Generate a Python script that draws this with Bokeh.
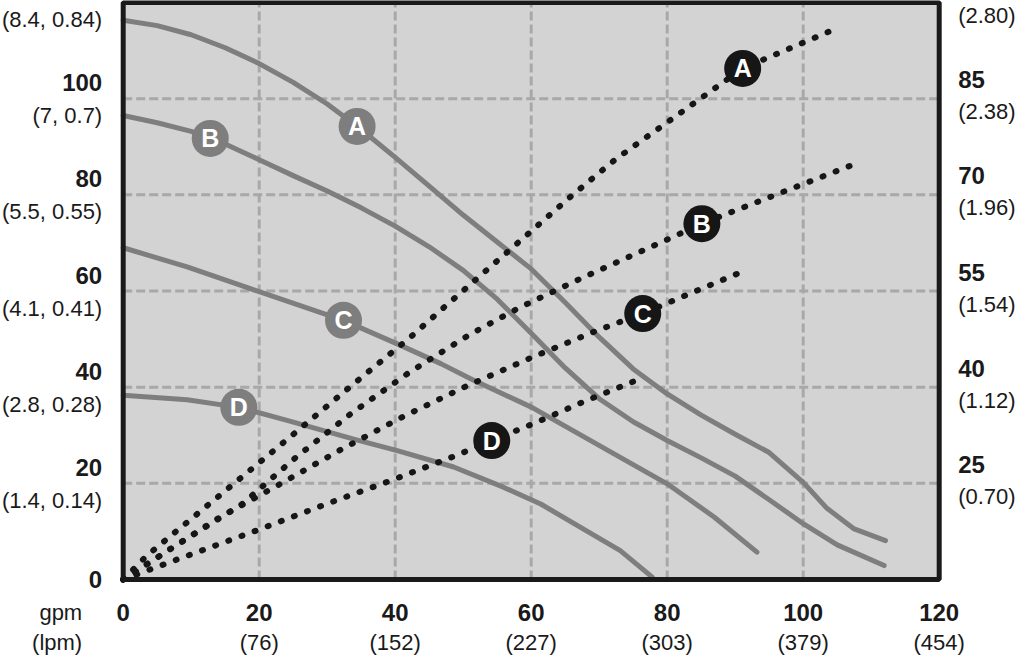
import numpy as np
from bokeh.plotting import figure
from bokeh.models import Range1d, BoxAnnotation, ColumnDataSource
from bokeh.core.properties import value
from bokeh.embed import file_html
from bokeh.resources import INLINE

# ---- Head curves (solid gray), x in gpm, y in left-axis units ----
head_A_x = [0, 5, 10, 15, 20, 25, 30, 35, 40, 45, 50, 55, 60, 65, 70, 75, 80, 85, 90, 95, 100, 103.5, 107.4, 112.1]
head_A_y = [116.3, 115.2, 113.3, 110.6, 107.3, 103.4, 98.9, 93.6, 87.8, 81.8, 75.8, 70.2, 64.6, 57.6, 50.4, 43.8, 38.6, 34.2, 30.2, 26.4, 20.2, 14.8, 10.6, 8.1]
head_B_x = [0, 5, 10, 15, 20, 25, 30, 35, 40, 45, 50, 55, 60, 65, 70, 75, 80, 85, 90, 95, 100, 105, 111.9]
head_B_y = [96.5, 95, 93.2, 90.6, 87.3, 84.0, 80.8, 77.3, 73.5, 69.2, 64.3, 58.3, 51.2, 44.0, 37.6, 32.8, 28.9, 25.3, 21.5, 16.6, 11.6, 7.2, 2.9]
head_C_x = [0, 9.4, 18.7, 32.4, 40.3, 46.7, 51.6, 60.1, 73.1, 80, 86.9, 93.2]
head_C_y = [69, 65, 60.5, 53.9, 49, 44.9, 41.4, 35.8, 25.4, 19.9, 13, 5.7]
head_D_x = [0, 9.4, 17, 24.1, 33.9, 40.3, 48.6, 55.9, 61.4, 73.1, 77.8]
head_D_y = [38.3, 37.4, 35.8, 33.1, 29.2, 26.8, 23.4, 19.2, 15.7, 6.0, 0.5]

# ---- Power curves (black dotted) ----
pow_A_x = [0, 3.5, 10, 16.5, 24.6, 32.7, 42.4, 47.1, 59.8, 66.1, 72.4, 91.1, 105.2]
pow_A_y = [0, 5, 12.6, 20.2, 29.7, 39.3, 50.6, 56.5, 72.2, 80.0, 87.4, 106.3, 114.8]
pow_B_x = [0, 7, 12.2, 17.5, 25.4, 33.5, 42.1, 50.9, 58.2, 67.6, 78.9, 85.1, 90.3, 108.1]
pow_B_y = [0, 6.4, 11, 15.7, 25.4, 34.5, 43.1, 50.9, 56.5, 62.8, 70, 74, 76.9, 86.7]
pow_C_x = [0, 13.8, 23, 32, 41.2, 50.6, 60.1, 69.7, 76.4, 83.2, 91]
pow_C_y = [0, 12.6, 19.8, 27, 33.9, 40.3, 46.2, 51.8, 55.3, 59.4, 64]
pow_D_x = [0, 8.2, 19.8, 29.5, 39.2, 48.8, 54.2, 60.3, 67.9, 75.6]
pow_D_y = [0, 4.3, 10.3, 15.5, 20.5, 25.7, 28.9, 32.4, 37.1, 41.5]

letters = ["A", "B", "C", "D"]
head_label_x = [34.4, 12.8, 32.4, 17.0]
pow_label_x = [91.1, 85.1, 76.4, 54.2]

# ---- Tick labels ----
x_ticks = [0, 20, 40, 60, 80, 100, 120]
x_lpm_vals = [20, 40, 60, 80, 100, 120]
x_lpm = ["(76)", "(152)", "(227)", "(303)", "(379)", "(454)"]
x_unit_labels = ["gpm", "(lpm)"]
left_ticks = [0, 20, 40, 60, 80, 100]
left_paren_vals = [20, 40, 60, 80, 100, 120]
left_paren = ["(1.4, 0.14)", "(2.8, 0.28)", "(4.1, 0.41)", "(5.5, 0.55)", "(7, 0.7)", "(8.4, 0.84)"]
right_tick_vals = [20, 40, 60, 80, 100]
right_ticks = ["25", "40", "55", "70", "85"]
right_paren_vals = [20, 40, 60, 80, 100, 120]
right_paren = ["(0.70)", "(1.12)", "(1.54)", "(1.96)", "(2.38)", "(2.80)"]
grid_vals = [20, 40, 60, 80, 100]
X_MAX, Y_MAX = 120, 120

# ---- geometry: the panel occupies px 122.7..938.7 (x) and 2..579 (y) ----
W, H = 1016, 657
PX_X = 6.8      # px per gpm
PX_Y = 4.808    # px per left-axis unit
x_lo = -122.7 / PX_X
x_hi = (W - 122.7) / PX_X
y_hi = 579 / PX_Y
y_lo = -(H - 579) / PX_Y

def dx(px):
    return px / PX_X

def dy(px):
    return px / PX_Y

GRAY = "#7e7e7e"
BLACK = "#161616"
TXT = "#1a1a1a"
FONT = value("Liberation Sans")

p = figure(width=W, height=H, x_range=Range1d(x_lo, x_hi), y_range=Range1d(y_lo, y_hi),
           x_axis_type=None, y_axis_type=None, output_backend="svg", toolbar_location=None,
           min_border=0)
p.background_fill_color = "white"
p.border_fill_color = "white"
p.outline_line_color = None
p.grid.visible = False

# panel background
p.add_layout(BoxAnnotation(left=0, right=X_MAX, bottom=0, top=Y_MAX, fill_color="#d3d3d3",
                           fill_alpha=1, line_color=None, level="underlay"))
# dashed grid
p.segment(x0=grid_vals, y0=[0] * len(grid_vals), x1=grid_vals, y1=[Y_MAX] * len(grid_vals),
          line_color="#a8a8a8", line_width=3, line_dash="9 4")
p.segment(x0=[0] * len(grid_vals), y0=grid_vals, x1=[X_MAX] * len(grid_vals), y1=grid_vals,
          line_color="#a8a8a8", line_width=3, line_dash="9 4")

heads = [(head_A_x, head_A_y), (head_B_x, head_B_y), (head_C_x, head_C_y), (head_D_x, head_D_y)]
pows = [(pow_A_x, pow_A_y), (pow_B_x, pow_B_y), (pow_C_x, pow_C_y), (pow_D_x, pow_D_y)]

for xs, ys in heads:
    p.line(xs, ys, line_color=GRAY, line_width=5, line_join="round", line_cap="round")
for xs, ys in pows:
    p.line(xs, ys, line_color=BLACK, line_width=6, line_dash="1 13", line_cap="round")

hly = [float(np.interp(lx, xs, ys)) for lx, (xs, ys) in zip(head_label_x, heads)]
ply = [float(np.interp(lx, xs, ys)) for lx, (xs, ys) in zip(pow_label_x, pows)]

p.scatter(head_label_x, hly, size=37, marker="circle", fill_color=GRAY, line_color=None)
p.scatter(pow_label_x, ply, size=37, marker="circle", fill_color=BLACK, line_color=None)
for lxs, lys in ((head_label_x, hly), (pow_label_x, ply)):
    p.text(lxs, lys, text=letters, text_align="center", text_baseline="middle",
           text_color="white", text_font=FONT, text_font_style="bold",
           text_font_size="25px")

# panel border
p.add_layout(BoxAnnotation(left=0, right=X_MAX, bottom=0, top=Y_MAX, fill_color=None,
                           fill_alpha=0, line_color="#1a1a1a", line_alpha=1, line_width=5,
                           level="overlay"))

def texts(xs, ys, labels, align, bold):
    src = ColumnDataSource(dict(x=list(xs), y=list(ys), t=list(labels)))
    p.text(x="x", y="y", text="t", source=src, text_align=align, text_baseline="middle",
           text_color=TXT, text_font=FONT, text_font_style="bold" if bold else "normal",
           text_font_size="24px" if bold else "22px")

# left axis labels
texts([dx(-21)] * len(left_ticks),
      [v + (dy(16) if v else 0) for v in left_ticks],
      [str(v) for v in left_ticks], "right", True)
texts([dx(-21)] * len(left_paren_vals), [v - dy(17) for v in left_paren_vals],
      left_paren, "right", False)
# right axis labels
texts([X_MAX + dx(19)] * len(right_tick_vals), [v + dy(19) for v in right_tick_vals],
      right_ticks, "left", True)
texts([X_MAX + dx(19)] * len(right_paren_vals), [v - dy(13) for v in right_paren_vals],
      right_paren, "left", False)
# bottom axis labels
texts(x_ticks, [-dy(33)] * len(x_ticks), [str(v) for v in x_ticks], "center", True)
texts(x_lpm_vals, [-dy(63)] * len(x_lpm_vals), x_lpm, "center", False)
texts([dx(-41)] * 2, [-dy(33), -dy(63)], x_unit_labels, "right", False)

open("out.html", "w").write(file_html(p, INLINE))
